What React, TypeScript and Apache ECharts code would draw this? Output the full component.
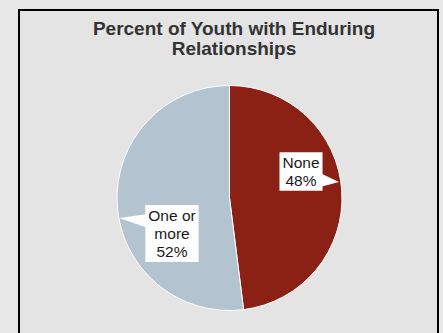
import React, { useEffect, useRef } from "react";
import * as echarts from "echarts";

const titleText = "Percent of Youth with Enduring\nRelationships";
const categories = ["None", "One or\nmore"];
const values = [48, 52];
const colors = ["#8b2015", "#b4c3d0"];

export default function App() {
  const ref = useRef<HTMLDivElement>(null);
  useEffect(() => {
    if (!ref.current) return;
    const chart = echarts.init(ref.current, null, { renderer: "svg" });
    const labelPos = [
      { x: 301, y: 171.5 },
      { x: 172, y: 233.5 },
    ];
    chart.setOption({
      animation: false,
      backgroundColor: "#e7e7e7",
      title: {
        text: titleText,
        left: 229,
        textAlign: "center",
        top: 14,
        textStyle: {
          fontFamily: "Liberation Sans, Arial, sans-serif",
          fontSize: 19,
          fontWeight: "bold",
          color: "#333",
          lineHeight: 19.5,
        },
      },
      graphic: [
        {
          type: "rect",
          z: -10,
          shape: { x: 19, y: 10, width: 419, height: 340 },
          style: { fill: "#e4e4e4", stroke: "#000", lineWidth: 2 },
        },
        {
          type: "polygon",
          z: 100,
          shape: { points: [[320, 173], [339, 182], [320, 187]] },
          style: { fill: "#fff" },
        },
        {
          type: "polygon",
          z: 100,
          shape: { points: [[148, 214], [119, 218], [148, 228]] },
          style: { fill: "#fff" },
        },
      ],
      series: [
        {
          type: "pie",
          center: [229.5, 198],
          radius: 112.5,
          startAngle: 90,
          clockwise: true,
          z: 2,
          itemStyle: { borderColor: "#fff", borderWidth: 1 },
          data: categories.map((c, i) => ({
            name: c,
            value: values[i],
            itemStyle: { color: colors[i] },
          })),
          label: {
            show: true,
            position: "inside",
            formatter: (p: any) => `${p.name}\n${p.value}%`,
            backgroundColor: "#fff",
            padding: [1, 3],
            fontFamily: "Liberation Sans, Arial, sans-serif",
            fontSize: 15.5,
            lineHeight: 18.3,
            color: "#1a1a1a",
            align: "center",
          },
          labelLine: { show: false },
          labelLayout: (params: any) => ({
            x: labelPos[params.dataIndex].x,
            y: labelPos[params.dataIndex].y,
            align: "center",
            verticalAlign: "middle",
          }),
          emphasis: { disabled: true },
        },
      ],
    });
    return () => chart.dispose();
  }, []);
  return (
    <div
      ref={ref}
      style={{ position: "fixed", left: 0, top: 0, width: 443, height: 333 }}
    />
  );
}
